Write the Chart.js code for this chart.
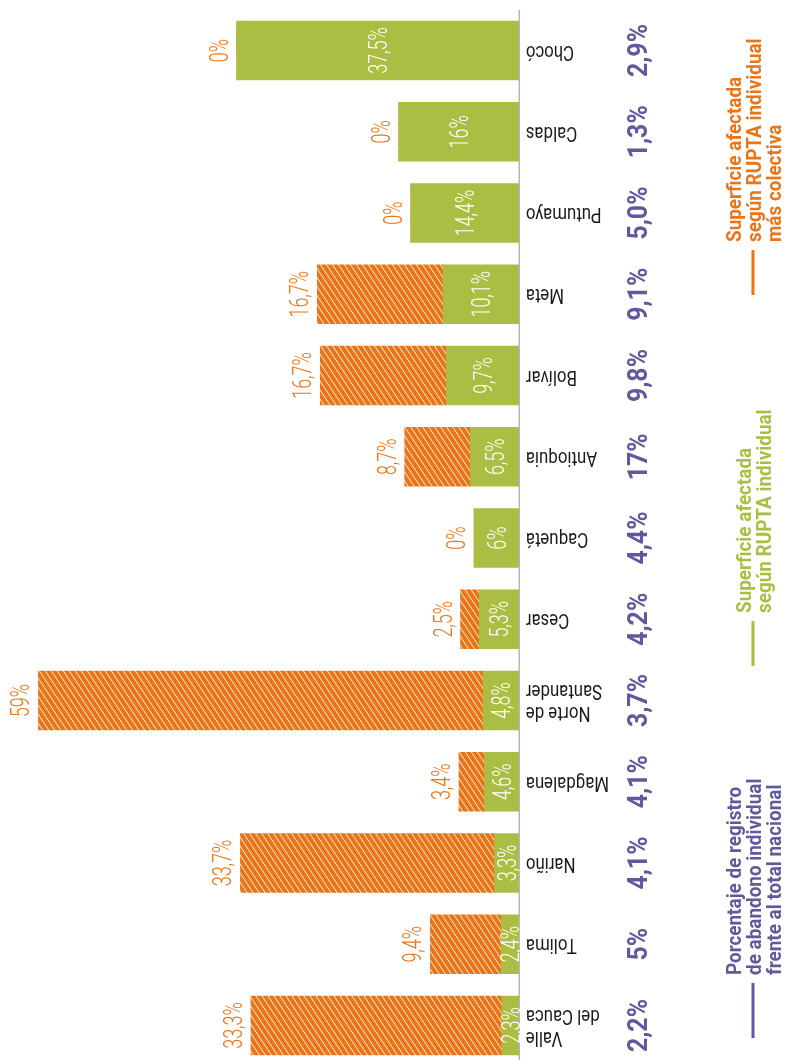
<!DOCTYPE html>
<html lang="es">
<head>
<meta charset="utf-8">
<script src="https://cdn.jsdelivr.net/npm/chart.js@4.4.0/dist/chart.umd.min.js"></script>
<style>
  html, body { margin: 0; padding: 0; background: #fff; overflow: hidden; }
</style>
</head>
<body>
<canvas id="chart-rupta" width="785" height="1060"></canvas>

<script>
// datos (de arriba hacia abajo)
var departamentos = [['Chocó'], ['Caldas'], ['Putumayo'], ['Meta'], ['Bolívar'], ['Antioquia'], ['Caquetá'],
  ['Cesar'], ['Norte de', 'Santander'], ['Magdalena'], ['Nariño'], ['Tolima'], ['Valle', 'del Cauca']];
var individual = [37.5, 16, 14.4, 10.1, 9.7, 6.5, 6, 5.3, 4.8, 4.6, 3.3, 2.4, 2.3];
var colectiva = [0, 0, 0, 16.7, 16.7, 8.7, 0, 2.5, 59, 3.4, 33.7, 9.4, 33.3];
var abandono = ['2,9%', '1,3%', '5,0%', '9,1%', '9,8%', '17%', '4,4%', '4,2%', '3,7%', '4,1%', '4,1%', '5%', '2,2%'];

var leyendaColectiva = ['Superficie afectada', 'según RUPTA individual', 'más colectiva'];
var leyendaIndividual = ['Superficie afectada', 'según RUPTA individual'];
var leyendaAbandono = ['Porcentaje de registro', 'de abandono individual', 'frente al total nacional'];

var verde = '#abbe43';
var naranja = '#eb7416';
var morado = '#5e5a9b';

function rayado() {
  var w = 6, h = 9;
  var c = document.createElement('canvas');
  c.width = w; c.height = h;
  var g = c.getContext('2d');
  g.fillStyle = naranja;
  g.fillRect(0, 0, w, h);
  g.strokeStyle = 'rgba(255,250,240,0.95)';
  g.lineWidth = 1;
  [-w, 0, w].forEach(function (dx) {
    g.beginPath();
    g.moveTo(dx - w, -h);
    g.lineTo(dx + 2 * w, 2 * h);
    g.stroke();
  });
  return g.createPattern(c, 'repeat');
}

function fmt(v) {
  return String(v).replace('.', ',') + '%';
}

function texto(ctx, str, x, y, ang, sx, align, base) {
  ctx.save();
  ctx.translate(x, y);
  ctx.rotate(ang);
  ctx.scale(sx, 1);
  ctx.textAlign = align;
  ctx.textBaseline = base;
  ctx.fillText(str, 0, 0);
  ctx.restore();
}

function leyenda(ctx, lineas, color, inicio, largo) {
  var cx = 753, paso = 20;
  ctx.fillStyle = color;
  ctx.font = '700 21px Roboto';
  lineas.forEach(function (l, i) {
    var x = cx + (i - (lineas.length - 1) / 2) * paso + 7.5;
    texto(ctx, l, x, inicio, -Math.PI / 2, 0.9, 'left', 'alphabetic');
  });
  ctx.strokeStyle = color;
  ctx.lineWidth = 3;
  ctx.beginPath();
  ctx.moveTo(cx, inicio + 8);
  ctx.lineTo(cx, inicio + 8 + largo);
  ctx.stroke();
}

var rotulos = {
  id: 'rotulos',
  afterDraw: function (chart) {
    var ctx = chart.ctx;
    var base = chart.scales.x.getPixelForValue(0);
    var m0 = chart.getDatasetMeta(0).data;
    var m1 = chart.getDatasetMeta(1).data;

    // linea base
    ctx.save();
    ctx.strokeStyle = '#b5b5b5';
    ctx.lineWidth = 1.5;
    ctx.beginPath();
    ctx.moveTo(base, 10);
    ctx.lineTo(base, 1060);
    ctx.stroke();

    for (var i = 0; i < departamentos.length; i++) {
      var y = m0[i].y;

      // valor individual dentro de la barra verde
      var cx = (m0[i].x + m0[i].base) / 2;
      ctx.fillStyle = '#ffffff';
      ctx.font = '300 25px Roboto';
      texto(ctx, fmt(individual[i]), cx + 9, y, -Math.PI / 2, 0.72, 'center', 'alphabetic');

      // valor colectivo al final de la barra
      ctx.fillStyle = naranja;
      texto(ctx, fmt(colectiva[i]), m1[i].x - 9, y, -Math.PI / 2, 0.72, 'center', 'alphabetic');

      // departamento (invertido)
      ctx.fillStyle = '#1a1a1a';
      ctx.font = '400 20px Roboto';
      var lin = departamentos[i];
      for (var k = 0; k < lin.length; k++) {
        var off = (k - (lin.length - 1) / 2) * 22;
        ctx.save();
        ctx.translate(base + 6.5, y);
        ctx.rotate(Math.PI);
        ctx.scale(0.84, 1);
        ctx.textAlign = 'right';
        ctx.textBaseline = 'middle';
        ctx.fillText(lin[k], 0, off);
        ctx.restore();
      }

      // porcentaje de abandono
      ctx.fillStyle = morado;
      ctx.font = '700 27px Roboto';
      texto(ctx, abandono[i], 637.5 + 9.6, y, -Math.PI / 2, 0.92, 'center', 'alphabetic');
    }

    leyenda(ctx, leyendaColectiva, naranja, 242, 45);
    leyenda(ctx, leyendaIndividual, verde, 613, 45);
    leyenda(ctx, leyendaAbandono, morado, 975, 55);
    ctx.restore();
  }
};

var chart = new Chart(document.getElementById('chart-rupta').getContext('2d'), {
  type: 'bar',
  data: {
    labels: departamentos,
    datasets: [
      { label: 'individual', data: individual, backgroundColor: verde, barThickness: 59, borderWidth: 0, clip: false },
      { label: 'colectiva', data: colectiva, backgroundColor: rayado(), barThickness: 59, borderWidth: 0, clip: false }
    ]
  },
  options: {
    indexAxis: 'y',
    responsive: false,
    animation: false,
    devicePixelRatio: 1,
    layout: { padding: { left: 0, right: 265.7, top: 50.5, bottom: 34.5 } },
    plugins: { legend: { display: false }, tooltip: { enabled: false } },
    scales: {
      x: { stacked: true, reverse: true, min: 0, max: 68.9, display: false },
      y: { stacked: true, offset: false, display: false }
    }
  },
  plugins: [rotulos]
});
</script>
</body>
</html>
